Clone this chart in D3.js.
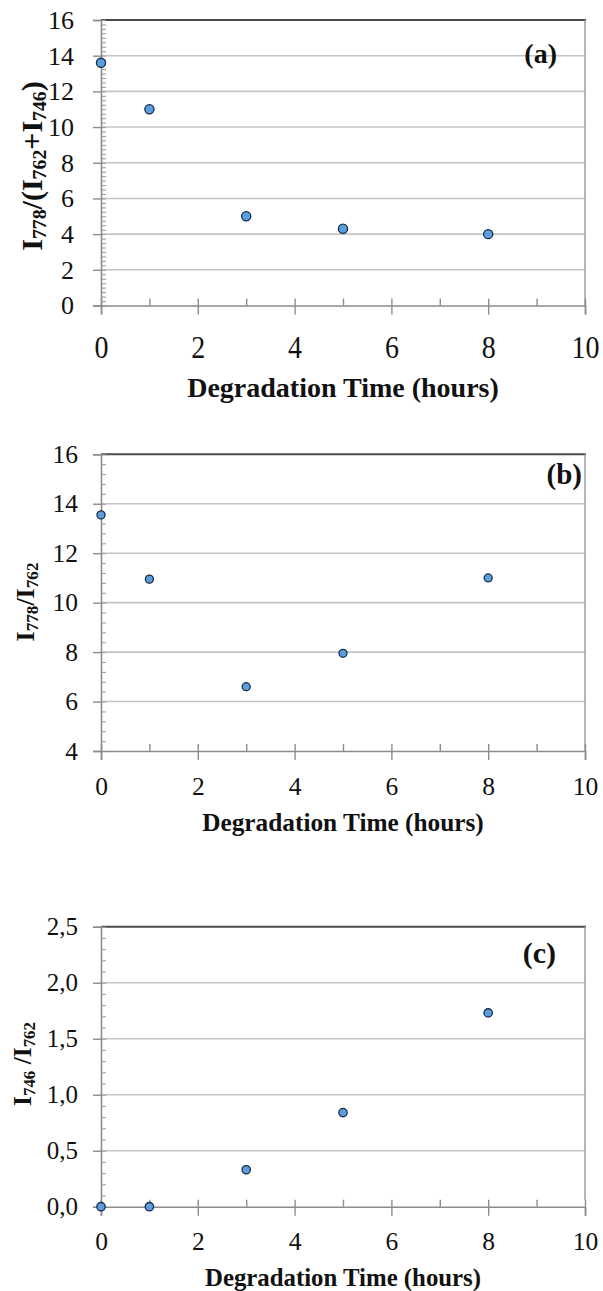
<!DOCTYPE html>
<html>
<head>
<meta charset="utf-8">
<script src="https://cdn.jsdelivr.net/npm/d3@7/dist/d3.min.js"></script>
<style>
  html, body { margin: 0; padding: 0; background: #fff; }
  svg { display: block; }
  svg text { font-family: "Liberation Serif", "Times New Roman", Times, "DejaVu Serif", serif; fill: #111; }
</style>
</head>
<body>
<svg id="chart" width="603" height="1291"></svg>
<script>
// Degradation time (hours) at which each spectrum was measured
const hours = [0, 1, 3, 5, 8];
const xTicks = [0, 2, 4, 6, 8, 10];

// (a) I778 / (I762 + I746)
const ratioA = [13.6, 11.0, 5.0, 4.3, 4.0];
const yTicksA = [0, 2, 4, 6, 8, 10, 12, 14, 16];

// (b) I778 / I762
const ratioB = [13.55, 10.95, 6.6, 7.95, 11.0];
const yTicksB = [4, 6, 8, 10, 12, 14, 16];

// (c) I746 / I762
const ratioC = [0.0, 0.0, 0.33, 0.84, 1.73];
const yTicksC = [0, 0.5, 1.0, 1.5, 2.0, 2.5];

const serif = '"Liberation Serif", "Times New Roman", Times, "DejaVu Serif", serif';
const svg = d3.select("#chart");
const plotLeft = 101, plotRight = 585;
const x = d3.scaleLinear().domain([0, 10]).range([plotLeft, plotRight]);
const commaFmt = v => d3.format(".1f")(v).replace(".", ",");

function drawPanel(cfg) {
  const g = svg.append("g").attr("font-family", serif);
  const y = d3.scaleLinear().domain(cfg.domain).range([cfg.bottom, cfg.top]);

  // horizontal gridlines
  g.append("g")
    .selectAll("line")
    .data(cfg.yTicks.filter(v => v !== cfg.domain[0] && v !== cfg.domain[1]))
    .join("line")
    .attr("x1", plotLeft).attr("x2", plotRight)
    .attr("y1", d => y(d)).attr("y2", d => y(d))
    .attr("stroke", "#c4c4c4").attr("stroke-width", 1.6);

  // frame: dark top edge, lighter right edge
  g.append("line")
    .attr("x1", plotLeft).attr("x2", plotRight + 1)
    .attr("y1", cfg.top).attr("y2", cfg.top)
    .attr("stroke", "#4a4a4a").attr("stroke-width", 2);
  g.append("line")
    .attr("x1", plotRight).attr("x2", plotRight)
    .attr("y1", cfg.top).attr("y2", cfg.rightEnd !== undefined ? cfg.rightEnd : cfg.bottom)
    .attr("stroke", "#9a9a9a").attr("stroke-width", 1.4);

  // minor y ticks, pointing into the plot
  const minorY = d3.range(cfg.domain[0], cfg.domain[1] + 1e-9, cfg.minorStep);
  g.append("g")
    .attr("transform", `translate(${plotLeft},0)`)
    .call(d3.axisRight(y).tickValues(minorY).tickSize(5).tickFormat(""))
    .call(a => a.select(".domain").remove())
    .call(a => a.selectAll("line").attr("stroke", "#a0a0a0").attr("stroke-width", 1.1));

  // major y ticks and labels
  g.append("g")
    .attr("transform", `translate(${plotLeft},0)`)
    .call(d3.axisLeft(y).tickValues(cfg.yTicks).tickSize(8).tickPadding(cfg.yPad)
      .tickFormat(cfg.yFormat || d3.format("d")))
    .call(a => a.attr("font-family", serif))
    .call(a => a.select(".domain").attr("stroke", "#8c8c8c").attr("stroke-width", 1.6))
    .call(a => a.selectAll("line").attr("stroke", "#8c8c8c").attr("stroke-width", 1.4))
    .call(a => a.selectAll("text")
      .attr("font-size", cfg.yFont).attr("fill", "#111"));

  // x ticks at every hour, pointing into the plot
  g.append("g")
    .attr("transform", `translate(0,${cfg.bottom})`)
    .call(d3.axisTop(x).tickValues(d3.range(0, 11)).tickSize(7).tickFormat(""))
    .call(a => a.select(".domain").remove())
    .call(a => a.selectAll("line").attr("stroke", "#8c8c8c").attr("stroke-width", 1.4));

  // major x ticks and labels
  g.append("g")
    .attr("transform", `translate(0,${cfg.bottom})`)
    .call(d3.axisBottom(x).tickValues(xTicks).tickSize(9).tickPadding(0).tickFormat(d3.format("d")))
    .call(a => a.attr("font-family", serif))
    .call(a => a.select(".domain").attr("stroke", "#8c8c8c").attr("stroke-width", 1.6))
    .call(a => a.selectAll("line").attr("stroke", "#8c8c8c").attr("stroke-width", 1.4))
    .call(a => a.selectAll("text")
      .attr("font-size", cfg.xFont).attr("fill", "#111")
      .attr("dy", null)
      .attr("y", 0)
      .attr("dominant-baseline", "central")
      .attr("transform", `translate(0,${cfg.xLabelY - cfg.bottom}) scale(1,${cfg.xStretch || 1})`));

  // x-axis title
  g.append("text")
    .attr("x", (plotLeft + plotRight) / 2)
    .attr("y", cfg.xTitleY)
    .attr("text-anchor", "middle")
    .attr("dominant-baseline", "central")
    .attr("font-weight", "bold")
    .attr("font-size", cfg.xTitleFont)
    .text("Degradation Time (hours)");

  // y-axis title with subscripted wavenumbers
  const yt = g.append("text")
    .attr("transform", `translate(${cfg.yTitleX},${cfg.yTitleY}) rotate(-90)`)
    .attr("text-anchor", "middle")
    .attr("dominant-baseline", "central")
    .attr("font-weight", "bold")
    .attr("font-size", cfg.yTitleFont);
  cfg.yTitle.forEach(part => {
    const t = yt.append("tspan").text(part.t);
    if (part.sub) t.attr("font-size", cfg.yTitleFont * 0.66).attr("dy", cfg.yTitleFont * 0.28);
    else if (part.after) t.attr("dy", -cfg.yTitleFont * 0.28);
  });

  // panel letter
  g.append("text")
    .attr("x", cfg.letterX)
    .attr("y", cfg.letterY)
    .attr("text-anchor", "end")
    .attr("dominant-baseline", "central")
    .attr("font-weight", "bold")
    .attr("font-size", cfg.letterFont)
    .text(cfg.letter);

  // data points
  g.append("g")
    .selectAll("circle")
    .data(hours.map((h, i) => ({ h, v: cfg.values[i] })))
    .join("circle")
    .attr("cx", d => x(d.h))
    .attr("cy", d => y(d.v))
    .attr("r", cfg.r)
    .attr("fill", "#5a9ee0")
    .attr("stroke", "#1b2b45")
    .attr("stroke-width", 1.3);
}

drawPanel({
  values: ratioA, yTicks: yTicksA, domain: [0, 16], minorStep: 0.25,
  top: 20, bottom: 305.5,
  yFont: 26, yPad: 19, xFont: 28, xStretch: 1.15, xLabelY: 347, xTitleY: 387, xTitleFont: 28,
  yTitle: [{ t: "I" }, { t: "778", sub: true }, { t: "/(I", after: true }, { t: "762", sub: true },
           { t: "+I", after: true }, { t: "746", sub: true }, { t: ")", after: true }],
  yTitleX: 31, yTitleY: 166, yTitleFont: 30,
  letter: "(a)", letterX: 557, letterY: 53, letterFont: 28, r: 4.6
});

drawPanel({
  values: ratioB, yTicks: yTicksB, domain: [4, 16], minorStep: 0.4,
  top: 454.3, bottom: 751,
  yFont: 25.5, yPad: 15, xFont: 25.5, xLabelY: 786.7, xTitleY: 821.7, xTitleFont: 25.3,
  yTitle: [{ t: "I" }, { t: "778", sub: true }, { t: "/I", after: true }, { t: "762", sub: true }],
  yTitleX: 25, yTitleY: 602, yTitleFont: 26,
  letter: "(b)", letterX: 582, letterY: 474, letterFont: 29, r: 4
});

drawPanel({
  values: ratioC, yTicks: yTicksC, domain: [0, 2.5], minorStep: 0.1,
  top: 926.7, bottom: 1206.7, rightEnd: 1200,
  yFont: 25, yPad: 15, yFormat: commaFmt, xFont: 25.5, xLabelY: 1241.7, xTitleY: 1277, xTitleFont: 24.8,
  yTitle: [{ t: "I" }, { t: "746", sub: true }, { t: " /I", after: true }, { t: "762", sub: true }],
  yTitleX: 22, yTitleY: 1064, yTitleFont: 25.5,
  letter: "(c)", letterX: 556, letterY: 952, letterFont: 30, r: 4.2
});
</script>
</body>
</html>
